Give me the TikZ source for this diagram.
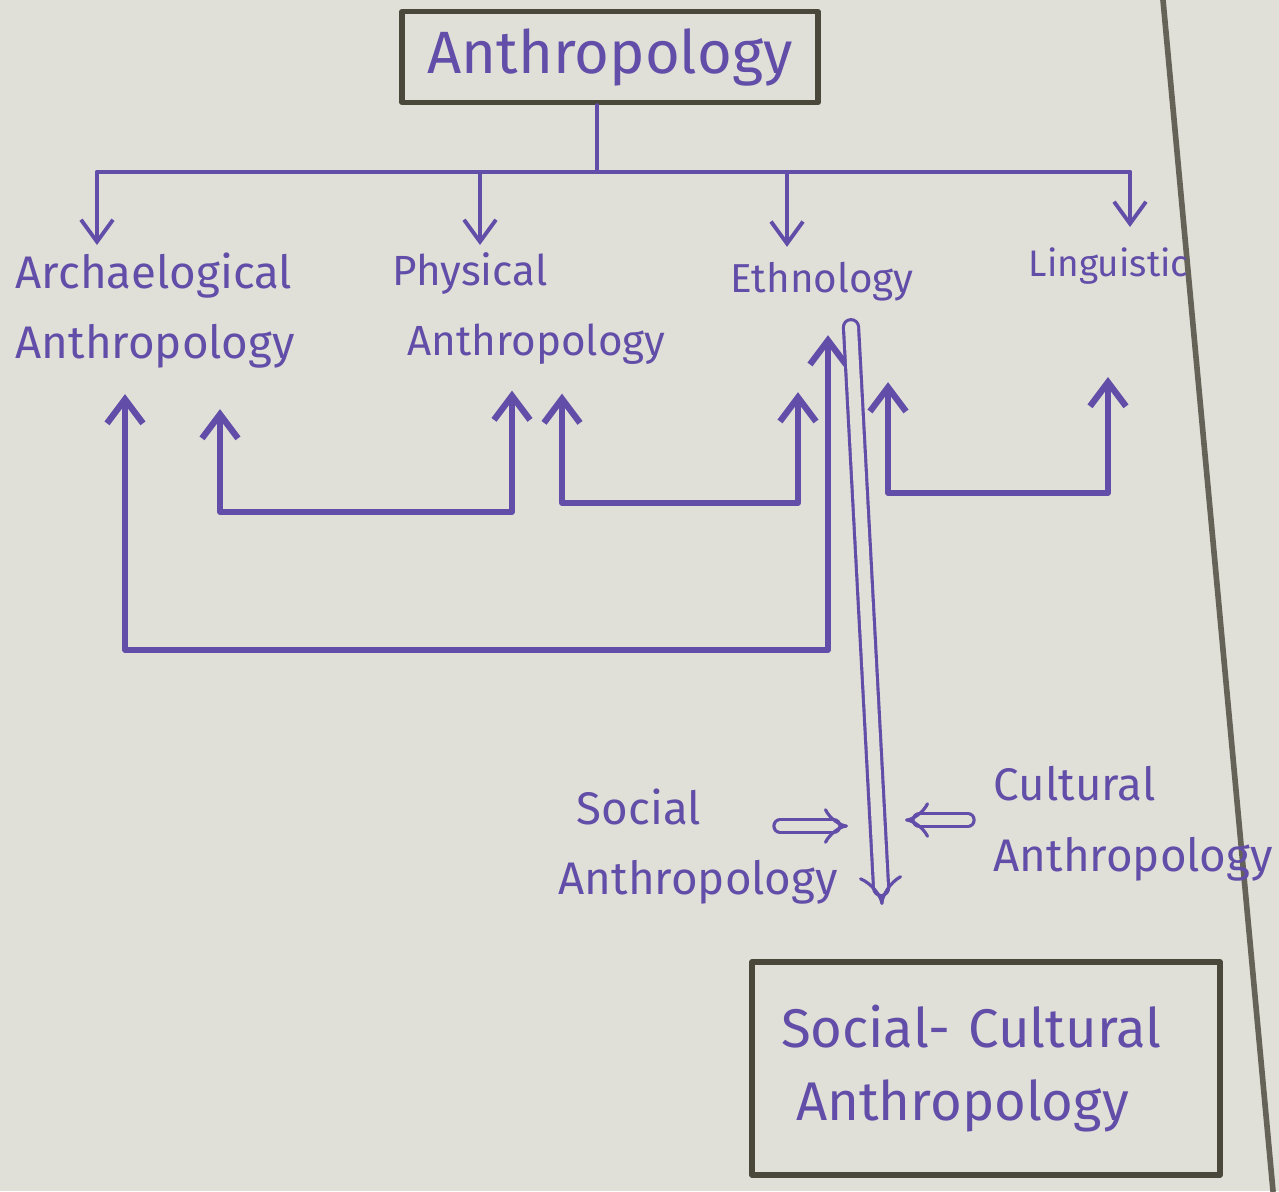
\documentclass[tikz,border=0pt]{standalone}
\usepackage{fontspec}
\setmainfont{Fira Sans}
\usetikzlibrary{arrows.meta}
\definecolor{ink}{RGB}{98,78,168}
\definecolor{paper}{RGB}{224,224,216}
\definecolor{frame}{RGB}{74,72,58}
\begin{document}
\begin{tikzpicture}[line join=round, line cap=round,
      pen/.style={draw=ink, line width=1.1pt},
      downar/.style={pen, -{Straight Barb[length=2.2mm, width=3.2mm, line width=1.1pt]}},
      upar/.style={draw=ink, line width=1.5pt, {Straight Barb[length=2.4mm, width=3.6mm, line width=1.8pt]}-{Straight Barb[length=2.4mm, width=3.6mm, line width=1.8pt]}},
      dblar/.style={draw=ink, line width=0.9pt, double=paper, double distance=2.6pt, -{Implies[scale=1.3]}},
      lbl/.style={text=ink, inner sep=0pt, align=left},
      titlebox/.style={draw=frame, line width=1.5pt, text=ink, align=left}]
    \fill[paper] (0,0) rectangle (12.79,-11.91);
    \useasboundingbox (0,0) rectangle (12.79,-11.91);
    \draw[frame!85, line width=1.6pt] (11.63,0) -- (12.73,-11.91);
    \node[titlebox, font=\fontsize{17}{20}\selectfont, minimum width=4.16cm, minimum height=0.91cm] (anth) at (6.10,-0.57) {Anthropology};
    \node[lbl, anchor=north west, font=\fontsize{13}{20}\selectfont] (arch) at (0.15,-2.52) {Archaelogical\\Anthropology};
    \node[lbl, anchor=north west, font=\fontsize{12}{20}\selectfont] (phys) at (3.92,-2.52) {Physical\\\hspace{1.5mm}Anthropology};
    \node[lbl, anchor=west, font=\fontsize{11.5}{14}\selectfont] (ethno) at (7.30,-2.82) {Ethnology};
    \node[lbl, anchor=west, font=\fontsize{10.5}{13}\selectfont] (ling) at (10.28,-2.66) {Linguistic};
    \node[lbl, anchor=north west, font=\fontsize{13}{20}\selectfont] (social) at (5.58,-7.88) {\hspace{1.8mm}Social\\Anthropology};
    \node[lbl, anchor=north west, font=\fontsize{13}{20}\selectfont] (cult) at (9.93,-7.66) {Cultural\\Anthropology};
    \node[titlebox, font=\fontsize{15.5}{21}\selectfont, minimum width=4.68cm, minimum height=2.13cm, text width=4.1cm] (soccul) at (9.86,-10.685) {Social- Cultural\\\hspace{1.5mm}Anthropology};
    \coordinate (hub) at (5.97,-1.72);
    \coordinate (ta) at ([shift={(0.82,0.07)}]arch.north west);
    \coordinate (tp) at ([shift={(0.88,0.07)}]phys.north west);
    \coordinate (te) at ([shift={(0.57,0.15)}]ethno.north west);
    \coordinate (tl) at ([shift={(1.02,0.20)}]ling.north west);
    \draw[pen] (anth.south -| hub) -- (hub);
    \draw[pen] (ta |- hub) -- (tl |- hub);
    \foreach \t in {ta,tp,te,tl} \draw[downar] (\t |- hub) -- (\t);
    \coordinate (ua) at ([shift={(1.10,-0.25)}]arch.south west);
    \coordinate (ub) at ([shift={(2.05,-0.40)}]arch.south west);
    \coordinate (uc) at ([shift={(1.20,-0.25)}]phys.south west);
    \coordinate (ud) at ([shift={(1.70,-0.28)}]phys.south west);
    \coordinate (ue) at ([shift={(0.68,-0.90)}]ethno.south west);
    \coordinate (uf) at ([shift={(0.98,-0.33)}]ethno.south west);
    \coordinate (ug) at ([shift={(1.58,-0.80)}]ethno.south west);
    \coordinate (uh) at ([shift={(0.80,-0.92)}]ling.south west);
    \coordinate (lowa) at (0,-5.12);
    \coordinate (lowb) at (0,-5.03);
    \coordinate (lowc) at (0,-4.93);
    \coordinate (lowd) at (0,-6.50);
    \draw[upar] (ub) -- (ub |- lowa) -- (uc |- lowa) -- (uc);
    \draw[upar] (ud) -- (ud |- lowb) -- (ue |- lowb) -- (ue);
    \draw[upar] (ug) -- (ug |- lowc) -- (uh |- lowc) -- (uh);
    \draw[upar] (ua) -- (ua |- lowd) -- (uf |- lowd) -- (uf);
    \coordinate (dn) at (8.82,-9.05);
    \draw[dblar, double distance=3.4pt, -{Implies[scale=1.9]}] ([shift={(1.21,-0.25)}]ethno.south west) -- (dn);
    \draw[dblar] ([shift={(2.22,-0.38)}]social.north west) -- ++(0.68,0);
    \draw[dblar] ([shift={(-0.25,-0.54)}]cult.north west) -- ++(-0.63,0);
  \end{tikzpicture}
\end{document}
